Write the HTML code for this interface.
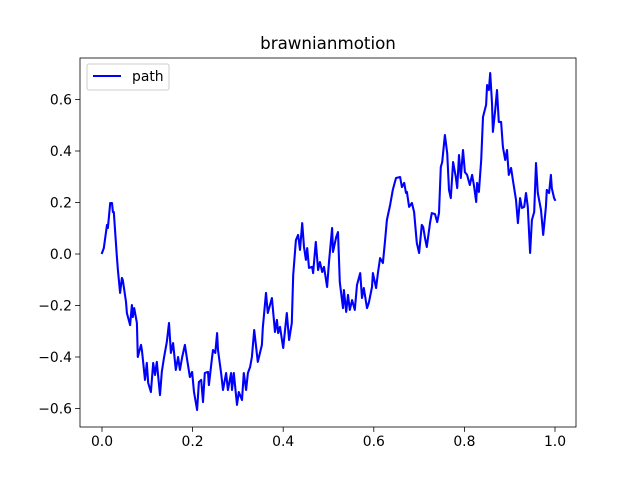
<!DOCTYPE html>
<html><head><meta charset="utf-8">
<style>
body{margin:0;background:#fff;}
svg{display:block;font-family:"DejaVu Sans","Liberation Sans",sans-serif;}
</style></head>
<body>
<svg id="chart" width="640" height="480" viewBox="0 0 640 480">
<rect x="0" y="0" width="640" height="480" fill="#fff"/>
<text x="328" y="49" text-anchor="middle" font-size="16.7" fill="#000">brawnianmotion</text>
<g id="plot"></g>
</svg>
<script>
const times = [0,.004,.011,.013,.018,.022,.024,.026,.033,.035,.040,.044,.046,.053,.055,.062,.066,.068,.071,.077,.079,.086,.088,.095,.099,.102,.108,.113,.117,.121,.128,.132,.137,.143,.148,.152,.157,.163,.168,.172,.177,.183,.188,.194,.199,.203,.210,.214,.219,.223,.227,.234,.236,.243,.245,.250,.254,.256,.263,.267,.274,.278,.285,.287,.291,.298,.302,.309,.313,.318,.322,.327,.331,.336,.344,.353,.355,.362,.366,.375,.382,.386,.389,.393,.400,.408,.413,.419,.422,.428,.433,.437,.442,.446,.450,.453,.457,.464,.466,.472,.477,.481,.486,.490,.497,.501,.508,.510,.517,.521,.525,.532,.534,.539,.543,.547,.552,.558,.563,.570,.574,.578,.585,.589,.596,.598,.605,.609,.614,.620,.625,.629,.636,.642,.649,.658,.662,.667,.671,.673,.678,.684,.689,.695,.700,.706,.709,.713,.717,.724,.728,.735,.740,.744,.748,.751,.757,.762,.766,.770,.775,.781,.784,.788,.792,.797,.801,.806,.812,.817,.821,.826,.828,.832,.837,.841,.848,.850,.854,.857,.861,.863,.868,.872,.876,.881,.885,.890,.894,.898,.903,.907,.914,.918,.923,.927,.932,.936,.940,.945,.949,.954,.958,.962,.969,.974,.980,.982,.987,.991,.993,.998,1.0];
const pathValues = [.004,.023,.113,.101,.198,.198,.163,.163,-.012,-.062,-.151,-.093,-.101,-.186,-.229,-.276,-.198,-.245,-.210,-.268,-.400,-.353,-.373,-.489,-.423,-.501,-.536,-.423,-.470,-.419,-.548,-.458,-.400,-.342,-.268,-.384,-.346,-.450,-.400,-.450,-.400,-.353,-.412,-.478,-.458,-.536,-.606,-.497,-.489,-.575,-.462,-.458,-.509,-.400,-.373,-.384,-.307,-.373,-.462,-.528,-.462,-.528,-.462,-.528,-.462,-.586,-.536,-.567,-.462,-.528,-.462,-.439,-.400,-.295,-.419,-.353,-.287,-.151,-.229,-.171,-.303,-.256,-.307,-.283,-.365,-.229,-.334,-.268,-.082,.054,.074,.016,.120,.027,-.023,.023,-.054,-.050,-.074,.047,-.062,-.031,-.070,-.050,-.128,-.031,.101,.008,.066,.085,-.109,-.210,-.140,-.225,-.159,-.217,-.179,-.217,-.120,-.074,-.171,-.132,-.210,-.190,-.128,-.074,-.132,-.074,-.016,-.035,.054,.132,.190,.249,.295,.299,.260,.276,.237,.241,.183,.198,.163,.043,.004,.113,.105,.062,.027,.120,.159,.155,.124,.159,.338,.357,.462,.392,.249,.217,.357,.299,.256,.384,.295,.404,.318,.307,.268,.307,.268,.202,.276,.241,.365,.532,.579,.656,.637,.703,.586,.474,.559,.637,.513,.513,.416,.365,.404,.307,.334,.287,.210,.120,.217,.179,.183,.237,.183,.004,.132,.163,.353,.237,.171,.074,.183,.249,.237,.307,.256,.217,.210];
const xTicks = [0,0.2,0.4,0.6,0.8,1.0];
const xTickLabels = ["0.0","0.2","0.4","0.6","0.8","1.0"];
const yTicks = [-0.6,-0.4,-0.2,0,0.2,0.4,0.6];
const yTickLabels = ["−0.6","−0.4","−0.2","0.0","0.2","0.4","0.6"];

const NS="http://www.w3.org/2000/svg";
const L=80,R=576,T=58,B=427;
const xScale=t=>102+t*453;
const yScale=v=>254-v*257.5;
const g=document.getElementById('plot');
function mk(tag,attrs){const e=document.createElementNS(NS,tag);for(const k in attrs)e.setAttribute(k,attrs[k]);g.appendChild(e);return e;}

const line=mk('polyline',{points:times.map((t,i)=>xScale(t).toFixed(1)+','+yScale(pathValues[i]).toFixed(1)).join(' '),fill:'none',stroke:'#0000ff','stroke-width':2.08,'stroke-linejoin':'round','stroke-linecap':'square'});



const frame=mk('rect',{x:L,y:T,width:R-L,height:B-T,fill:'none',stroke:'#000','stroke-width':0.8});



xTicks.forEach((t,i)=>{
  const x=xScale(t);
  const tk=mk('line',{x1:x,x2:x,y1:B,y2:B+4.9,stroke:'#000','stroke-width':0.8});
  
  
  const lb=mk('text',{x:x,y:B+19,'text-anchor':'middle','font-size':13.9,fill:'#000'});
  lb.textContent=xTickLabels[i];
  
  
});
yTicks.forEach((v,i)=>{
  const y=yScale(v);
  const tk=mk('line',{x1:L-4.9,x2:L,y1:y,y2:y,stroke:'#000','stroke-width':0.8});
  
  
  const lb=mk('text',{x:L-8,y:y+5,'text-anchor':'end','font-size':13.9,fill:'#000'});
  lb.textContent=yTickLabels[i];
  
  
});

const lg=mk('rect',{x:87,y:64,width:82,height:26,rx:2,fill:'#fff','fill-opacity':0.8,stroke:'#ccc','stroke-width':1});


const ll=mk('line',{x1:93,x2:121,y1:76,y2:76,stroke:'#0000ff','stroke-width':2.08});


const lt=mk('text',{x:132,y:81,'font-size':13.9,fill:'#000'});
lt.textContent='path';


</script>
</body></html>
